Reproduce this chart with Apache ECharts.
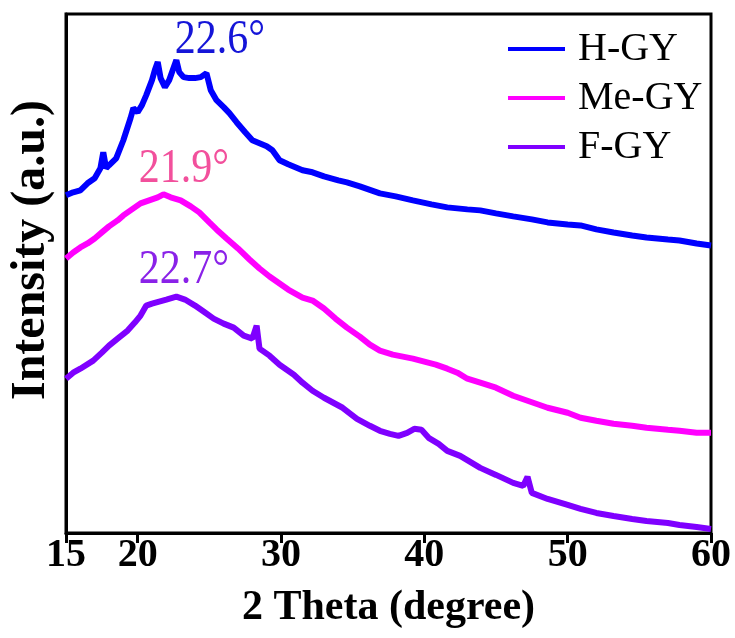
<!DOCTYPE html>
<html>
<head>
<meta charset="utf-8">
<script src="https://cdn.jsdelivr.net/npm/echarts@6/dist/echarts.min.js"></script>
<style>
  html, body { margin: 0; padding: 0; background: #fff; }
  #chart { width: 735px; height: 638px; }
</style>
</head>
<body>
<div id="chart"></div>
<script>
// 2 Theta positions (degree) and relative intensity (a.u.)
const hgyTheta = [15, 15.5, 16, 16.5, 17, 17.4, 17.6, 17.8, 18, 18.5, 19, 19.5, 19.7, 20, 20.3, 20.6, 21, 21.2, 21.4, 21.6, 21.9, 22.2, 22.5, 22.7, 22.9, 23.2, 23.6, 24, 24.4, 24.8, 25.1, 25.5, 26, 26.4, 26.9, 27.5, 28, 28.5, 29, 29.4, 29.9, 30.5, 31, 31.5, 32.2, 33, 34, 34.6, 35.5, 36.9, 38, 39.2, 40.5, 41.6, 43, 43.9, 45, 46.2, 47.5, 48.6, 50, 50.9, 52, 53.2, 54.5, 55.5, 57, 57.8, 59, 60];
const hgyValues = [337, 340, 342, 349, 354, 364, 380, 364, 367, 374, 392, 414, 424, 420, 427, 437, 452, 462, 470, 454, 445, 452, 464, 472, 460, 455, 454, 454, 455, 459, 442, 432, 425, 419, 410, 400, 392, 389, 386, 382, 372, 368, 365, 362, 360, 356, 352, 350, 346, 339, 336, 332, 328, 325, 323, 322, 319, 316, 313, 310, 308, 307, 303, 300, 297, 295, 293, 292, 289, 287];

const megyTheta = [15, 15.5, 16, 16.5, 17, 17.5, 18, 18.6, 19, 19.5, 20.2, 20.8, 21.4, 21.8, 22.3, 23, 23.7, 24.3, 25, 25.5, 26.2, 27, 27.8, 28.5, 29.2, 29.9, 30.5, 31, 31.5, 32.2, 33, 33.8, 34.6, 35.5, 36.2, 36.9, 37.8, 38.5, 39.2, 40, 40.8, 41.6, 42.3, 43, 43.9, 45, 46.2, 47.4, 48.6, 50, 50.9, 52, 53.2, 54.5, 55.5, 57, 57.8, 59, 60];
const megyValues = [274, 280, 285, 289, 294, 300, 306, 312, 317, 322, 329, 332, 335, 338, 335, 332, 326, 320, 310, 303, 294, 284, 273, 264, 256, 249, 243, 239, 235, 232, 224, 214, 205, 196, 188, 182, 178, 176, 174, 171, 168, 164, 160, 154, 150, 145, 137, 131, 125, 120, 115, 112, 109, 107, 105, 103, 102, 100, 100];

const fgyTheta = [15, 15.5, 16, 16.9, 17.5, 18, 18.6, 19.3, 19.8, 20.2, 20.6, 21, 21.5, 22, 22.7, 23.3, 24, 24.6, 25.3, 26, 26.7, 27.4, 28, 28.3, 28.5, 29.2, 29.9, 30.9, 31.5, 32.2, 33, 34.3, 35.3, 36.2, 36.9, 37.6, 38.2, 38.8, 39.3, 39.8, 40.3, 41, 41.6, 42.5, 43.9, 45, 46.2, 46.9, 47.2, 47.5, 48.6, 50, 50.9, 52, 53.2, 54.5, 55.5, 57, 57.8, 59, 60];
const fgyValues = [154, 160, 164, 172, 180, 187, 194, 202, 210, 217, 227, 229, 231, 233, 236, 233, 227, 221, 214, 209, 205, 197, 194, 207, 184, 177, 168, 158, 150, 142, 135, 125, 114, 107, 102, 99, 97, 100, 104, 103, 95, 89, 82, 77, 65, 58, 50, 47, 56, 40, 34, 28, 24, 20, 17, 14, 12, 10, 8, 6, 4];

const seriesNames = ['H-GY', 'Me-GY', 'F-GY'];
const lineColors = ['#0000ff', '#ff00ff', '#7f00ff'];
const peakLabels = ['22.6°', '21.9°', '22.7°'];
const peakColors = ['#1515d8', '#f2509c', '#8a22e8'];
const xTicks = [15, 20, 30, 40, 50, 60];

const serif = '"Liberation Serif", "DejaVu Serif", serif';

function pairs(xs, ys) {
  return xs.map((x, i) => [x, ys[i]]);
}

const chart = echarts.init(document.getElementById('chart'));

const option = {
  animation: false,
  backgroundColor: '#fff',
  grid: {
    left: 66,
    right: 24,
    top: 14,
    bottom: 105,
    show: true,
    borderColor: '#000',
    borderWidth: 3,
  },
  legend: {
    orient: 'vertical',
    left: 503,
    top: 24,
    itemWidth: 57,
    itemHeight: 4,
    itemGap: 9,
    icon: 'rect',
    data: seriesNames,
    textStyle: {
      fontFamily: serif,
      fontSize: 40,
      color: '#000',
      padding: [0, 0, 0, 8],
    },
  },
  xAxis: {
    type: 'value',
    min: 15,
    max: 60,
    name: '2 Theta (degree)',
    nameLocation: 'middle',
    nameGap: 54,
    nameTextStyle: {
      fontFamily: serif,
      fontSize: 42,
      fontWeight: 'bold',
      color: '#000',
    },
    axisLine: { lineStyle: { color: '#000', width: 3 } },
    axisTick: {
      show: true,
      inside: false,
      length: 10,
      customValues: xTicks,
      lineStyle: { color: '#000', width: 3 },
    },
    axisLabel: {
      customValues: xTicks,
      margin: 3,
      fontFamily: serif,
      fontSize: 40,
      fontWeight: 'bold',
      color: '#000',
    },
    splitLine: { show: false },
  },
  yAxis: {
    type: 'value',
    min: 0,
    max: 518,
    axisLine: { show: true, lineStyle: { color: '#000', width: 3 } },
    axisTick: { show: false },
    axisLabel: { show: false },
    splitLine: { show: false },
  },
  series: [
    { name: seriesNames[0], data: pairs(hgyTheta, hgyValues) },
    { name: seriesNames[1], data: pairs(megyTheta, megyValues) },
    { name: seriesNames[2], data: pairs(fgyTheta, fgyValues) },
  ].map((s, i) => ({
    ...s,
    type: 'line',
    showSymbol: false,
    color: lineColors[i],
    lineStyle: { color: lineColors[i], width: 6 },
  })),
  graphic: [
    {
      type: 'text',
      x: 32,
      y: 250,
      rotation: Math.PI / 2,
      style: {
        text: 'Intensity (a.u.)',
        font: 'bold 48px ' + serif,
        fill: '#000',
        textAlign: 'center',
        textVerticalAlign: 'middle',
      },
    },
    { pos: [220, 64] },
    { pos: [184, 193] },
    { pos: [184, 294] },
  ].map((g, i) => {
    if (!g.pos) return g;
    const k = i - 1;
    return {
      type: 'text',
      x: g.pos[0],
      y: g.pos[1],
      scaleY: 1.15,
      style: {
        text: peakLabels[k],
        font: '42px ' + serif,
        fill: peakColors[k],
        textAlign: 'center',
        textVerticalAlign: 'bottom',
      },
    };
  }),
};

chart.setOption(option);
</script>
</body>
</html>
